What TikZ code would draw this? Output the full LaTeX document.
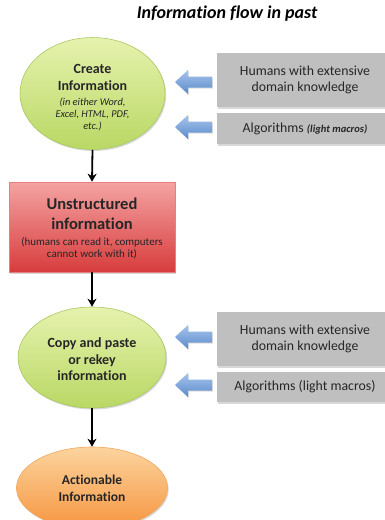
\documentclass[tikz,border=0pt]{standalone}
\usepackage{fontspec}
\setmainfont{Carlito}[Ligatures=NoCommon]
\usetikzlibrary{shapes.geometric,shadows,arrows.meta}
\definecolor{txt}{HTML}{262626}
\definecolor{grn1}{HTML}{E6F2AE}
\definecolor{grn2}{HTML}{B9D864}
\definecolor{grnb}{HTML}{A9C860}
\definecolor{red1}{HTML}{F4A3A3}
\definecolor{red2}{HTML}{D83C3C}
\definecolor{redb}{HTML}{E58080}
\definecolor{org1}{HTML}{FCD49E}
\definecolor{org2}{HTML}{F6953F}
\definecolor{orgb}{HTML}{F0A860}
\definecolor{gbox}{HTML}{BFBFBF}
\definecolor{blu1}{HTML}{A8C5EC}
\definecolor{blu2}{HTML}{5A8ACB}
\newcommand\smallblock[2]{{\fontsize{#1}{11.8}\selectfont\mdseries\renewcommand\arraystretch{1}\setlength\tabcolsep{0pt}\begin{tabular}[t]{c}#2\end{tabular}}}
\tikzset{
  shd/.style={drop shadow={shadow xshift=1.2pt,shadow yshift=-1.5pt,opacity=0.3}},
  ellbase/.style={ellipse,inner sep=0pt,align=center,text=txt,line width=0.6pt,shd},
  greenell/.style={ellbase,draw=grnb,top color=grn1,bottom color=grn2},
  orangeell/.style={ellbase,draw=orgb,top color=org1,bottom color=org2},
  redbox/.style={rectangle,inner sep=0pt,align=center,text=txt,draw=redb,line width=0.6pt,top color=red1,bottom color=red2,shd},
  graybox/.style={rectangle,inner sep=0pt,align=center,text=txt,fill=gbox,shd,font=\fontsize{13.8}{16}\selectfont},
  flow/.style={-{Stealth[length=8pt,width=9pt,inset=2.5pt]},line width=1.8pt,black},
  bluearrow/.pic={\shade[top color=blu1,bottom color=blu2,drop shadow={shadow xshift=0.8pt,shadow yshift=-1pt,opacity=0.25}]
     (0,0) -- (13,-12) -- (13,-5.5) -- (37,-5.5) -- (37,5.5) -- (13,5.5) -- (13,12) -- cycle;}
}
\begin{document}
\begin{tikzpicture}[x=1pt,y=-1pt]
\useasboundingbox (0,0) rectangle (385,520);
\clip (0,0) rectangle (385,520);
\fill[white] (0,0) rectangle (385,520);

\node[text=black,font=\fontsize{18}{20}\selectfont\bfseries\itshape] (title) at (227,14) {Information flow in past};

\node[greenell,minimum width=145pt,minimum height=107pt,font=\fontsize{14}{17}\selectfont\bfseries] (create) at (92.5,93.5)
  {\rule{0pt}{20pt}Create\\Information\\[-2pt]
   \smallblock{10.4}{\itshape (in either Word,\\\itshape Excel, HTML, PDF,\\\itshape etc.)}};

\node[redbox,minimum width=166pt,minimum height=90pt,font=\fontsize{16.5}{20}\selectfont\bfseries] (unstr) at (92,227)
  {\rule{0pt}{16pt}Unstructured\\information\\[-4pt]
   \smallblock{11}{(humans can read it, computers\\cannot work with it)}};

\node[greenell,minimum width=148pt,minimum height=101pt,font=\fontsize{14}{16.5}\selectfont\bfseries] (copy) at (92,357.5)
  {\rule{0pt}{14pt}Copy and paste\\or rekey\\information};

\node[orangeell,minimum width=151pt,minimum height=82pt,font=\fontsize{13.5}{17}\selectfont\bfseries] (action) at (92,488)
  {Actionable\\Information};

\node[graybox,minimum width=176pt,minimum height=54pt] (hum1) at (305,80)
  {Humans with extensive\\domain knowledge};
\node[graybox,minimum width=176pt,minimum height=31pt] (alg1) at (305,128.5)
  {Algorithms {\fontsize{10.5}{12}\selectfont\bfseries\itshape (light macros)}};
\node[graybox,minimum width=176pt,minimum height=54pt] (hum2) at (305,339)
  {Humans with extensive\\domain knowledge};
\node[graybox,minimum width=176pt,minimum height=30pt] (alg2) at (305,387)
  {Algorithms (light macros)};

\pic at (175,82) {bluearrow};
\pic at (175,127) {bluearrow};
\pic at (175,337) {bluearrow};
\pic at (175,385) {bluearrow};

\draw[flow] (create.south) -- (unstr.north);
\draw[flow] (unstr.south) -- (copy.north);
\draw[flow] (copy.south) -- (action.north);
\end{tikzpicture}
\end{document}
